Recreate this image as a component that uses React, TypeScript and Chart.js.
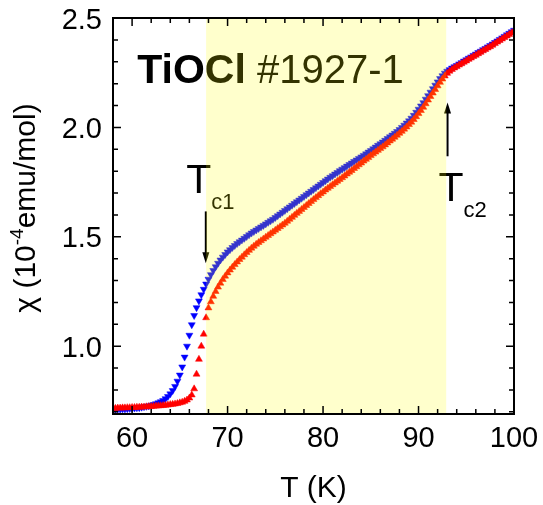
import React, { useEffect, useRef } from "react";
import { Chart, registerables } from "chart.js";

Chart.register(...registerables);

// Temperature grid (K), four readings per kelvin
const temperature = [
  58, 58.25, 58.5, 58.75, 59, 59.25, 59.5, 59.75,
  60, 60.25, 60.5, 60.75, 61, 61.25, 61.5, 61.75,
  62, 62.25, 62.5, 62.75, 63, 63.25, 63.5, 63.75,
  64, 64.25, 64.5, 64.75, 65, 65.25, 65.5, 65.75,
  66, 66.25, 66.5, 66.75, 67, 67.25, 67.5, 67.75,
  68, 68.25, 68.5, 68.75, 69, 69.25, 69.5, 69.75,
  70, 70.25, 70.5, 70.75, 71, 71.25, 71.5, 71.75,
  72, 72.25, 72.5, 72.75, 73, 73.25, 73.5, 73.75,
  74, 74.25, 74.5, 74.75, 75, 75.25, 75.5, 75.75,
  76, 76.25, 76.5, 76.75, 77, 77.25, 77.5, 77.75,
  78, 78.25, 78.5, 78.75, 79, 79.25, 79.5, 79.75,
  80, 80.25, 80.5, 80.75, 81, 81.25, 81.5, 81.75,
  82, 82.25, 82.5, 82.75, 83, 83.25, 83.5, 83.75,
  84, 84.25, 84.5, 84.75, 85, 85.25, 85.5, 85.75,
  86, 86.25, 86.5, 86.75, 87, 87.25, 87.5, 87.75,
  88, 88.25, 88.5, 88.75, 89, 89.25, 89.5, 89.75,
  90, 90.25, 90.5, 90.75, 91, 91.25, 91.5, 91.75,
  92, 92.25, 92.5, 92.75, 93, 93.25, 93.5, 93.75,
  94, 94.25, 94.5, 94.75, 95, 95.25, 95.5, 95.75,
  96, 96.25, 96.5, 96.75, 97, 97.25, 97.5, 97.75,
  98, 98.25, 98.5, 98.75, 99, 99.25, 99.5, 99.75,
  100,
];

// Blue series (down triangles), chi in 1e-4 emu/mol
const chiBlue = [
  0.711, 0.711, 0.712, 0.712, 0.713, 0.713, 0.714, 0.715, // 58-59
  0.716, 0.717, 0.718, 0.719, 0.721, 0.723, 0.725, 0.727, // 60-61
  0.730, 0.733, 0.737, 0.741, 0.746, 0.752, 0.760, 0.770, // 62-63
  0.782, 0.797, 0.816, 0.840, 0.868, 0.905, 0.950, 1.000, // 64-65
  1.050, 1.098, 1.140, 1.176, 1.207, 1.235, 1.260, 1.284, // 66-67
  1.306, 1.327, 1.346, 1.363, 1.379, 1.394, 1.407, 1.419, // 68-69
  1.431, 1.441, 1.451, 1.460, 1.469, 1.477, 1.485, 1.493, // 70-71
  1.501, 1.509, 1.517, 1.524, 1.531, 1.538, 1.545, 1.552, // 72-73
  1.559, 1.566, 1.573, 1.580, 1.588, 1.596, 1.604, 1.612, // 74-75
  1.620, 1.628, 1.636, 1.644, 1.652, 1.660, 1.668, 1.676, // 76-77
  1.684, 1.692, 1.700, 1.708, 1.716, 1.724, 1.732, 1.740, // 78-79
  1.748, 1.756, 1.764, 1.772, 1.779, 1.787, 1.794, 1.802, // 80-81
  1.809, 1.816, 1.823, 1.830, 1.837, 1.844, 1.851, 1.858, // 82-83
  1.865, 1.872, 1.879, 1.887, 1.894, 1.902, 1.910, 1.918, // 84-85
  1.925, 1.933, 1.941, 1.949, 1.957, 1.965, 1.973, 1.981, // 86-87
  1.990, 2.000, 2.010, 2.020, 2.030, 2.042, 2.055, 2.069, // 88-89
  2.083, 2.098, 2.113, 2.129, 2.145, 2.161, 2.177, 2.193, // 90-91
  2.208, 2.223, 2.236, 2.248, 2.257, 2.264, 2.271, 2.277, // 92-93
  2.283, 2.290, 2.296, 2.303, 2.309, 2.316, 2.322, 2.329, // 94-95
  2.335, 2.342, 2.348, 2.355, 2.361, 2.368, 2.374, 2.381, // 96-97
  2.388, 2.395, 2.402, 2.409, 2.416, 2.423, 2.430, 2.437, // 98-99
  2.444,
];

// Red series (up triangles)
const chiRed = [
  0.716, 0.716, 0.717, 0.717, 0.718, 0.718, 0.719, 0.719, // 58-59
  0.720, 0.720, 0.721, 0.721, 0.722, 0.722, 0.723, 0.724, // 60-61
  0.724, 0.725, 0.726, 0.727, 0.728, 0.729, 0.730, 0.731, // 62-63
  0.733, 0.734, 0.736, 0.738, 0.741, 0.744, 0.748, 0.754, // 64-65
  0.763, 0.777, 0.805, 0.872, 0.940, 1.000, 1.055, 1.130, // 66-67
  1.175, 1.203, 1.228, 1.250, 1.270, 1.288, 1.305, 1.320, // 68-69
  1.335, 1.348, 1.361, 1.373, 1.385, 1.396, 1.407, 1.418, // 70-71
  1.428, 1.438, 1.448, 1.457, 1.466, 1.474, 1.482, 1.490, // 72-73
  1.498, 1.506, 1.514, 1.522, 1.530, 1.538, 1.546, 1.554, // 74-75
  1.562, 1.571, 1.580, 1.589, 1.598, 1.607, 1.616, 1.625, // 76-77
  1.634, 1.643, 1.652, 1.661, 1.670, 1.679, 1.688, 1.697, // 78-79
  1.705, 1.714, 1.722, 1.730, 1.738, 1.746, 1.754, 1.762, // 80-81
  1.770, 1.778, 1.787, 1.795, 1.803, 1.812, 1.820, 1.829, // 82-83
  1.837, 1.846, 1.854, 1.862, 1.871, 1.879, 1.887, 1.895, // 84-85
  1.903, 1.911, 1.920, 1.929, 1.938, 1.946, 1.955, 1.964, // 86-87
  1.973, 1.982, 1.992, 2.002, 2.013, 2.024, 2.036, 2.049, // 88-89
  2.063, 2.077, 2.092, 2.108, 2.125, 2.141, 2.157, 2.173, // 90-91
  2.190, 2.206, 2.221, 2.235, 2.247, 2.257, 2.265, 2.272, // 92-93
  2.278, 2.285, 2.291, 2.298, 2.304, 2.311, 2.317, 2.324, // 94-95
  2.330, 2.337, 2.343, 2.350, 2.356, 2.363, 2.369, 2.376, // 96-97
  2.383, 2.390, 2.397, 2.404, 2.411, 2.418, 2.425, 2.432, // 98-99
  2.440,
];

const xTickValues = [60, 70, 80, 90, 100];
const yTickValues = [1.0, 1.5, 2.0, 2.5];
const xRange = [58, 100];
const yRange = [0.69, 2.5];
const xMinorStep = 2;
const yMinorStep = 0.1;
const bandRange = [67.75, 92.9];

const FONT = "'Liberation Sans', Arial, Helvetica, sans-serif";

const overlayPlugin = {
  id: "overlay",
  afterDatasetsDraw(chart: any) {
    const { ctx, chartArea: a } = chart;
    const xs = chart.scales.x;
    const ys = chart.scales.y;
    const px = (v: number) => xs.getPixelForValue(v);
    const py = (v: number) => ys.getPixelForValue(v);

    ctx.save();
    ctx.fillStyle = "#000";
    ctx.strokeStyle = "#000";
    ctx.textAlign = "left";
    ctx.textBaseline = "alphabetic";

    // Title text
    ctx.font = `bold 41px ${FONT}`;
    const tx = px(60.54);
    const ty = py(2.201);
    ctx.fillText("TiOCl", tx, ty);
    const w = ctx.measureText("TiOCl").width;
    ctx.font = `40px ${FONT}`;
    ctx.fillText(" #1927-1", tx + w, ty);

    // Tc labels
    const drawTc = (T: number, chi: number, sub: string) => {
      const x0 = px(T);
      const y0 = py(chi);
      ctx.font = `41px ${FONT}`;
      ctx.fillText("T", x0, y0);
      const tw = ctx.measureText("T").width;
      ctx.font = `22px ${FONT}`;
      ctx.fillText(sub, x0 + tw, y0 + 16);
    };
    drawTc(65.66, 1.699, "c1");
    drawTc(92.1, 1.662, "c2");

    // Arrows
    const arrow = (T: number, fromChi: number, toChi: number) => {
      const x0 = px(T);
      const y0 = py(fromChi);
      const y1 = py(toChi);
      const dir = y1 > y0 ? 1 : -1;
      ctx.lineWidth = 2;
      ctx.beginPath();
      ctx.moveTo(x0, y0);
      ctx.lineTo(x0, y1 - dir * 8);
      ctx.stroke();
      ctx.beginPath();
      ctx.moveTo(x0, y1);
      ctx.lineTo(x0 - 3.5, y1 - dir * 11);
      ctx.lineTo(x0 + 3.5, y1 - dir * 11);
      ctx.closePath();
      ctx.fill();
    };
    arrow(67.72, 1.616, 1.379);
    arrow(93.04, 1.868, 2.114);

    // Yellow band (translucent, over everything in the plot)
    ctx.fillStyle = "rgba(255,255,0,0.2)";
    const b0 = px(bandRange[0]);
    const b1 = px(bandRange[1]);
    ctx.fillRect(b0, a.top, b1 - b0, a.bottom - a.top);

    // Frame
    ctx.strokeStyle = "#000";
    ctx.lineWidth = 2;
    ctx.strokeRect(a.left, a.top, a.right - a.left, a.bottom - a.top);

    // Ticks (inward, on all four sides)
    ctx.lineWidth = 1.5;
    ctx.beginPath();
    for (let v = xRange[0]; v <= xRange[1] + 1e-9; v += xMinorStep) {
      const major = Math.abs(v / 10 - Math.round(v / 10)) < 1e-6;
      const len = major ? 8 : 5;
      const x = px(v);
      ctx.moveTo(x, a.bottom);
      ctx.lineTo(x, a.bottom - len);
      ctx.moveTo(x, a.top);
      ctx.lineTo(x, a.top + len);
    }
    for (let k = Math.ceil(yRange[0] / yMinorStep - 1e-6); k * yMinorStep <= yRange[1] + 1e-9; k++) {
      const v = k * yMinorStep;
      const major = k % 5 === 0;
      const len = major ? 8 : 5;
      const y = py(v);
      ctx.moveTo(a.left, y);
      ctx.lineTo(a.left + len, y);
      ctx.moveTo(a.right, y);
      ctx.lineTo(a.right - len, y);
    }
    ctx.stroke();

    // Tick labels
    ctx.fillStyle = "#000";
    ctx.font = `29px ${FONT}`;
    ctx.textAlign = "center";
    ctx.textBaseline = "alphabetic";
    xTickValues.forEach((v) => {
      ctx.fillText(String(v), px(v), a.bottom + 33);
    });
    ctx.textAlign = "right";
    yTickValues.forEach((v) => {
      ctx.fillText(v.toFixed(1), a.left - 11, py(v) + 10.5);
    });

    // Axis titles
    ctx.font = `30px ${FONT}`;
    ctx.textAlign = "center";
    ctx.fillText("T (K)", (a.left + a.right) / 2, 497);

    ctx.save();
    ctx.translate(35, 208);
    ctx.rotate(-Math.PI / 2);
    ctx.textAlign = "left";
    const p1 = "\u03C7 (10";
    const p2 = "-4";
    const p3 = "emu/mol)";
    ctx.font = `30px ${FONT}`;
    const w1 = ctx.measureText(p1).width;
    const w3 = ctx.measureText(p3).width;
    ctx.font = `19px ${FONT}`;
    const w2 = ctx.measureText(p2).width;
    const total = w1 + w2 + w3;
    let cx = -total / 2;
    ctx.font = `30px ${FONT}`;
    ctx.fillText(p1, cx, 0);
    cx += w1;
    ctx.font = `19px ${FONT}`;
    ctx.fillText(p2, cx, -12);
    cx += w2;
    ctx.font = `30px ${FONT}`;
    ctx.fillText(p3, cx, 0);
    ctx.restore();

    ctx.restore();
  },
};

export default function App() {
  const ref = useRef<HTMLCanvasElement | null>(null);

  useEffect(() => {
    if (!ref.current) return;
    const red = temperature.map((t, i) => ({ x: t, y: chiRed[i] }));
    const blue = temperature.map((t, i) => ({ x: t, y: chiBlue[i] }));
    const chart = new Chart(ref.current, {
      type: "scatter",
      data: {
        datasets: [
          {
            label: "red",
            data: red,
            pointStyle: "triangle",
            pointRadius: 4,
            pointBorderWidth: 0.5,
            backgroundColor: "#FF0000",
            borderColor: "#FF0000",
            showLine: false,
          },
          {
            label: "blue",
            data: blue,
            pointStyle: "triangle",
            rotation: 180,
            pointRadius: 4,
            pointBorderWidth: 0.5,
            backgroundColor: "#0000FF",
            borderColor: "#0000FF",
            showLine: false,
          },
        ],
      },
      options: {
        responsive: false,
        animation: false,
        devicePixelRatio: 1,
        layout: { padding: { top: 18, right: 29, left: 0, bottom: 0 } },
        plugins: {
          legend: { display: false },
          tooltip: { enabled: false },
          title: { display: false },
        },
        scales: {
          x: {
            type: "linear",
            min: xRange[0],
            max: xRange[1],
            grid: { display: false, drawTicks: false },
            border: { display: false },
            afterFit: (s: any) => {
              s.height = 91;
            },
            ticks: { display: false },
          },
          y: {
            type: "linear",
            min: yRange[0],
            max: yRange[1],
            grid: { display: false, drawTicks: false },
            border: { display: false },
            afterFit: (s: any) => {
              s.width = 113;
            },
            ticks: { display: false },
          },
        },
      },
      plugins: [overlayPlugin],
    });
    return () => chart.destroy();
  }, []);

  return (
    <div style={{ position: "fixed", left: 0, top: 0, width: 543, height: 505, background: "#fff" }}>
      <canvas ref={ref} width={543} height={505} style={{ width: 543, height: 505 }} />
    </div>
  );
}
